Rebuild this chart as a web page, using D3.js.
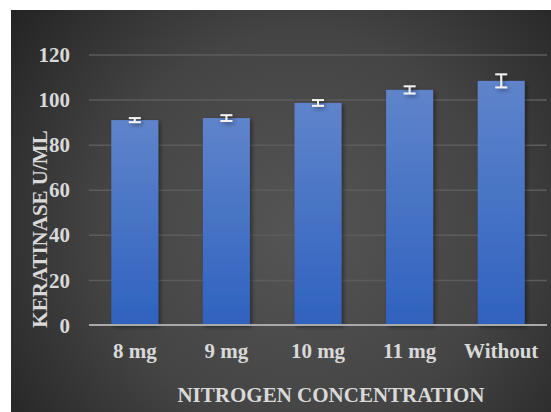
<!DOCTYPE html>
<html>
<head>
<meta charset="utf-8">
<script src="https://cdn.jsdelivr.net/npm/d3@7"></script>
<style>
  html, body { margin: 0; padding: 0; background: #ffffff; }
  svg { display: block; }
</style>
</head>
<body>
<script>
// Data
const categories = ["8 mg", "9 mg", "10 mg", "11 mg", "Without"];
const values = [90.9, 91.8, 98.5, 104.3, 108.3];
const errors = [0.9, 1.3, 1.3, 1.6, 2.9];
const yTicks = [0, 20, 40, 60, 80, 100, 120];
const xTitle = "NITROGEN CONCENTRATION";
const yTitle = "KERATINASE U/ML";

const W = 551, H = 412;
const plot = { left: 89, right: 547, top: 54.5, bottom: 325 };
const font = "'Liberation Serif', 'Times New Roman', serif";
const textColor = "#d9d9d9";

const svg = d3.select("body").append("svg").attr("width", W).attr("height", H);
const defs = svg.append("defs");

const bg = defs.append("radialGradient").attr("id", "bg")
  .attr("gradientUnits", "userSpaceOnUse")
  .attr("cx", 300).attr("cy", 230).attr("r", 360);
bg.append("stop").attr("offset", "0%").attr("stop-color", "#555555");
bg.append("stop").attr("offset", "55%").attr("stop-color", "#444444");
bg.append("stop").attr("offset", "100%").attr("stop-color", "#242424");

const barGrad = defs.append("linearGradient").attr("id", "barGrad")
  .attr("x1", 0).attr("y1", 0).attr("x2", 0).attr("y2", 1);
barGrad.append("stop").attr("offset", "0%").attr("stop-color", "#5f84cb");
barGrad.append("stop").attr("offset", "100%").attr("stop-color", "#2f62bf");

const shadow = defs.append("filter").attr("id", "shadow")
  .attr("x", "-20%").attr("y", "-20%").attr("width", "150%").attr("height", "150%");
shadow.append("feDropShadow").attr("dx", 2).attr("dy", 2).attr("stdDeviation", 2)
  .attr("flood-color", "#000").attr("flood-opacity", 0.45);

svg.append("rect").attr("x", 11).attr("y", 10).attr("width", W - 11).attr("height", H - 10)
  .attr("fill", "url(#bg)");

const x = d3.scaleBand().domain(categories)
  .range([plot.left, plot.right]).paddingInner(0.487).paddingOuter(0.2435);
const y = d3.scaleLinear().domain([0, 120]).range([plot.bottom, plot.top]);

// Gridlines
const grid = svg.append("g").attr("transform", `translate(${plot.left},0)`)
  .call(d3.axisLeft(y).tickValues(yTicks.filter(d => d > 0)).tickSize(-(plot.right - plot.left)).tickFormat(""));
grid.select(".domain").remove();
grid.selectAll("line").attr("stroke", "#5c5c5c").attr("stroke-width", 1.5);

// Y tick labels
const yAxis = svg.append("g").attr("transform", `translate(70,0)`)
  .call(d3.axisLeft(y).tickValues(yTicks).tickSize(0).tickPadding(0));
yAxis.select(".domain").remove();
yAxis.selectAll("text").attr("fill", textColor).attr("font-family", font)
  .attr("font-weight", "bold").attr("font-size", 21).attr("dy", "0.34em");

// Bars
svg.append("g").selectAll("rect").data(values).join("rect")
  .attr("x", (d, i) => x(categories[i]))
  .attr("y", d => y(d))
  .attr("width", x.bandwidth())
  .attr("height", d => y(0) - y(d))
  .attr("fill", "url(#barGrad)")
  .attr("filter", "url(#shadow)");

// X axis line
svg.append("line").attr("x1", plot.left).attr("x2", plot.right)
  .attr("y1", y(0)).attr("y2", y(0))
  .attr("stroke", "#a9a9a9").attr("stroke-width", 2);

// Error bars
const eg = svg.append("g").attr("stroke", "#f2f2f2").attr("stroke-width", 2).attr("filter", "url(#shadow)");
values.forEach((v, i) => {
  const cx = x(categories[i]) + x.bandwidth() / 2;
  const hi = y(v + errors[i]), lo = y(v - errors[i]);
  eg.append("line").attr("x1", cx).attr("x2", cx).attr("y1", hi).attr("y2", lo);
  eg.append("line").attr("x1", cx - 6).attr("x2", cx + 6).attr("y1", hi).attr("y2", hi);
  eg.append("line").attr("x1", cx - 6).attr("x2", cx + 6).attr("y1", lo).attr("y2", lo);
});

// X tick labels
const xAxis = svg.append("g").attr("transform", `translate(0,${plot.bottom})`)
  .call(d3.axisBottom(x).tickSize(0).tickPadding(0));
xAxis.select(".domain").remove();
xAxis.selectAll("text").attr("fill", textColor).attr("font-family", font)
  .attr("font-weight", "bold").attr("font-size", 21).attr("dy", null).attr("y", 33);

// Axis titles
svg.append("text").attr("x", 331).attr("y", 402)
  .attr("text-anchor", "middle").attr("fill", textColor).attr("font-family", font)
  .attr("font-weight", "bold").attr("font-size", 21).text(xTitle);

svg.append("text").attr("transform", "translate(46.5,229) rotate(-90)")
  .attr("text-anchor", "middle").attr("fill", textColor).attr("font-family", font)
  .attr("font-weight", "bold").attr("font-size", 21).text(yTitle);
</script>
</body>
</html>
